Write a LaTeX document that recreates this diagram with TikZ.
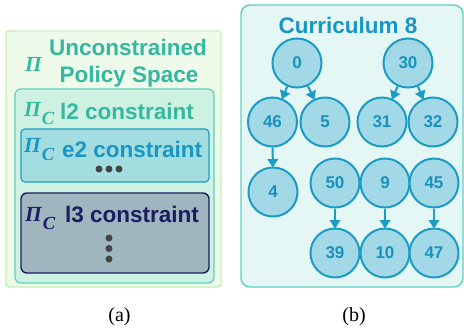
\documentclass[tikz,border=0pt]{standalone}
\usepackage{fontspec}
\setmainfont{Liberation Sans}
\newfontfamily\capfont{Liberation Serif}
\usetikzlibrary{arrows.meta}

\definecolor{outerfill}{HTML}{EFFBEA}
\definecolor{outerline}{HTML}{C6EFB5}
\definecolor{tealtext}{HTML}{36B7A0}
\definecolor{ltwofill}{HTML}{CDF2E2}
\definecolor{ltwoline}{HTML}{5FCFBF}
\definecolor{etwofill}{HTML}{A3DDDF}
\definecolor{blueline}{HTML}{1B9CC4}
\definecolor{bluetext}{HTML}{1A96C4}
\definecolor{lthreefill}{HTML}{9FB6BF}
\definecolor{navy}{HTML}{1C1C63}
\definecolor{dotgray}{HTML}{444444}
\definecolor{curfill}{HTML}{E5F7F5}
\definecolor{curline}{HTML}{5ECFC1}
\definecolor{nodefill}{HTML}{A3D8E6}
\definecolor{nodetext}{HTML}{1A92BF}

% Greek symbol with an optional subscript C
\newcommand{\PiSym}{{\capfont\bfseries\itshape\fontsize{21.5}{21.5}\selectfont Π}}
\newcommand{\PiSub}{{\capfont\bfseries\itshape\fontsize{21.5}{21.5}\selectfont Π\kern1pt\raisebox{-8.5pt}{\fontsize{18.5}{18.5}\selectfont C}}}

\tikzset{
  labeltext/.style={font=\fontsize{22.5}{27}\selectfont\bfseries, inner sep=0pt},
  symtext/.style={inner sep=0pt},
  panel/.style={line width=1.4pt},
  cnode/.style={circle, minimum size=49pt, inner sep=0pt, draw=blueline,
    fill=nodefill, line width=2pt, text=nodetext,
    font=\fontsize{17}{17}\selectfont\bfseries},
  arr/.style={draw=blueline, line width=2pt,
    -{Triangle[length=8.5pt,width=10.5pt]}, shorten >=-1pt},
  bigdot/.style={circle, fill=dotgray, minimum size=7pt, inner sep=0pt},
  captext/.style={font=\capfont\fontsize{20}{20}\selectfont, inner sep=0pt}
}

\begin{document}
\begin{tikzpicture}[x=1pt,y=-1pt]
\useasboundingbox (0,0) rectangle (464,333);

% ---------- (a) nested policy spaces ----------
\draw[panel, draw=outerline, fill=outerfill, rounded corners=3pt] (6,31) rectangle (221,287);
\node[labeltext, text=tealtext, anchor=base] (uncon) at (128,55) {Unconstrained};
\node[labeltext, text=tealtext, anchor=base] (policy) at (129,82) {Policy Space};
\node[symtext, text=tealtext, anchor=base west] (piu) at (25,71) {\PiSym};

\draw[line width=1.2pt, draw=ltwoline, fill=ltwofill, rounded corners=6pt] (15,89) rectangle (214,283);
\node[symtext, text=tealtext, anchor=base west] (pil2) at (24,116) {\PiSub};
\node[labeltext, text=tealtext, anchor=base west] (l2) at (60,119) {l2 constraint};

\draw[line width=1.2pt, draw=blueline, fill=etwofill, rounded corners=4pt] (21,129) rectangle (209,182);
\node[symtext, text=bluetext, anchor=base west] (pie2) at (24,152) {\PiSub};
\node[labeltext, text=bluetext, anchor=base west] (e2) at (62,157) {e2 constraint};
\node[bigdot] (h1) at (99,169) {};
\node[bigdot] (h2) at (109,169) {};
\node[bigdot] (h3) at (119,169) {};

\draw[line width=1.4pt, draw=navy, fill=lthreefill, rounded corners=6pt] (21,193) rectangle (209,273);
\node[symtext, text=navy, anchor=base west] (pil3) at (25,221) {\PiSub};
\node[labeltext, text=navy, anchor=base west] (l3) at (65,222) {l3 constraint};
\node[bigdot] (v1) at (109,238) {};
\node[bigdot] (v2) at (109,248.5) {};
\node[bigdot] (v3) at (109,259) {};

\node[captext] (capa) at (119.5,317) {(a)};

% ---------- (b) curriculum trees ----------
\draw[panel, draw=curline, fill=curfill, rounded corners=9pt] (241,5) rectangle (463,287);
\node[labeltext, text=bluetext, anchor=base] (title) at (348,33) {Curriculum 8};

\node[cnode] (n0)  at (297,63)  {0};
\node[cnode] (n30) at (408,63)  {30};
\node[cnode] (n46) at (272.5,122) {46};
\node[cnode] (n5)  at (325,122) {5};
\node[cnode] (n31) at (382,122) {31};
\node[cnode] (n32) at (433,122) {32};
\node[cnode] (n4)  at (273,192) {4};
\node[cnode] (n50) at (335,183) {50};
\node[cnode] (n9)  at (385,183) {9};
\node[cnode] (n45) at (434,183) {45};
\node[cnode] (n39) at (335,253) {39};
\node[cnode] (n10) at (385,253) {10};
\node[cnode] (n47) at (434,253) {47};

\draw[arr] (n0) -- (n46);
\draw[arr] (n0) -- (n5);
\draw[arr] (n30) -- (n31);
\draw[arr] (n30) -- (n32);
\draw[arr] (n46) -- (n4);
\draw[arr] (n50) -- (n39);
\draw[arr] (n9) -- (n10);
\draw[arr] (n45) -- (n47);

\node[captext] (capb) at (354,317) {(b)};
\end{tikzpicture}
\end{document}
